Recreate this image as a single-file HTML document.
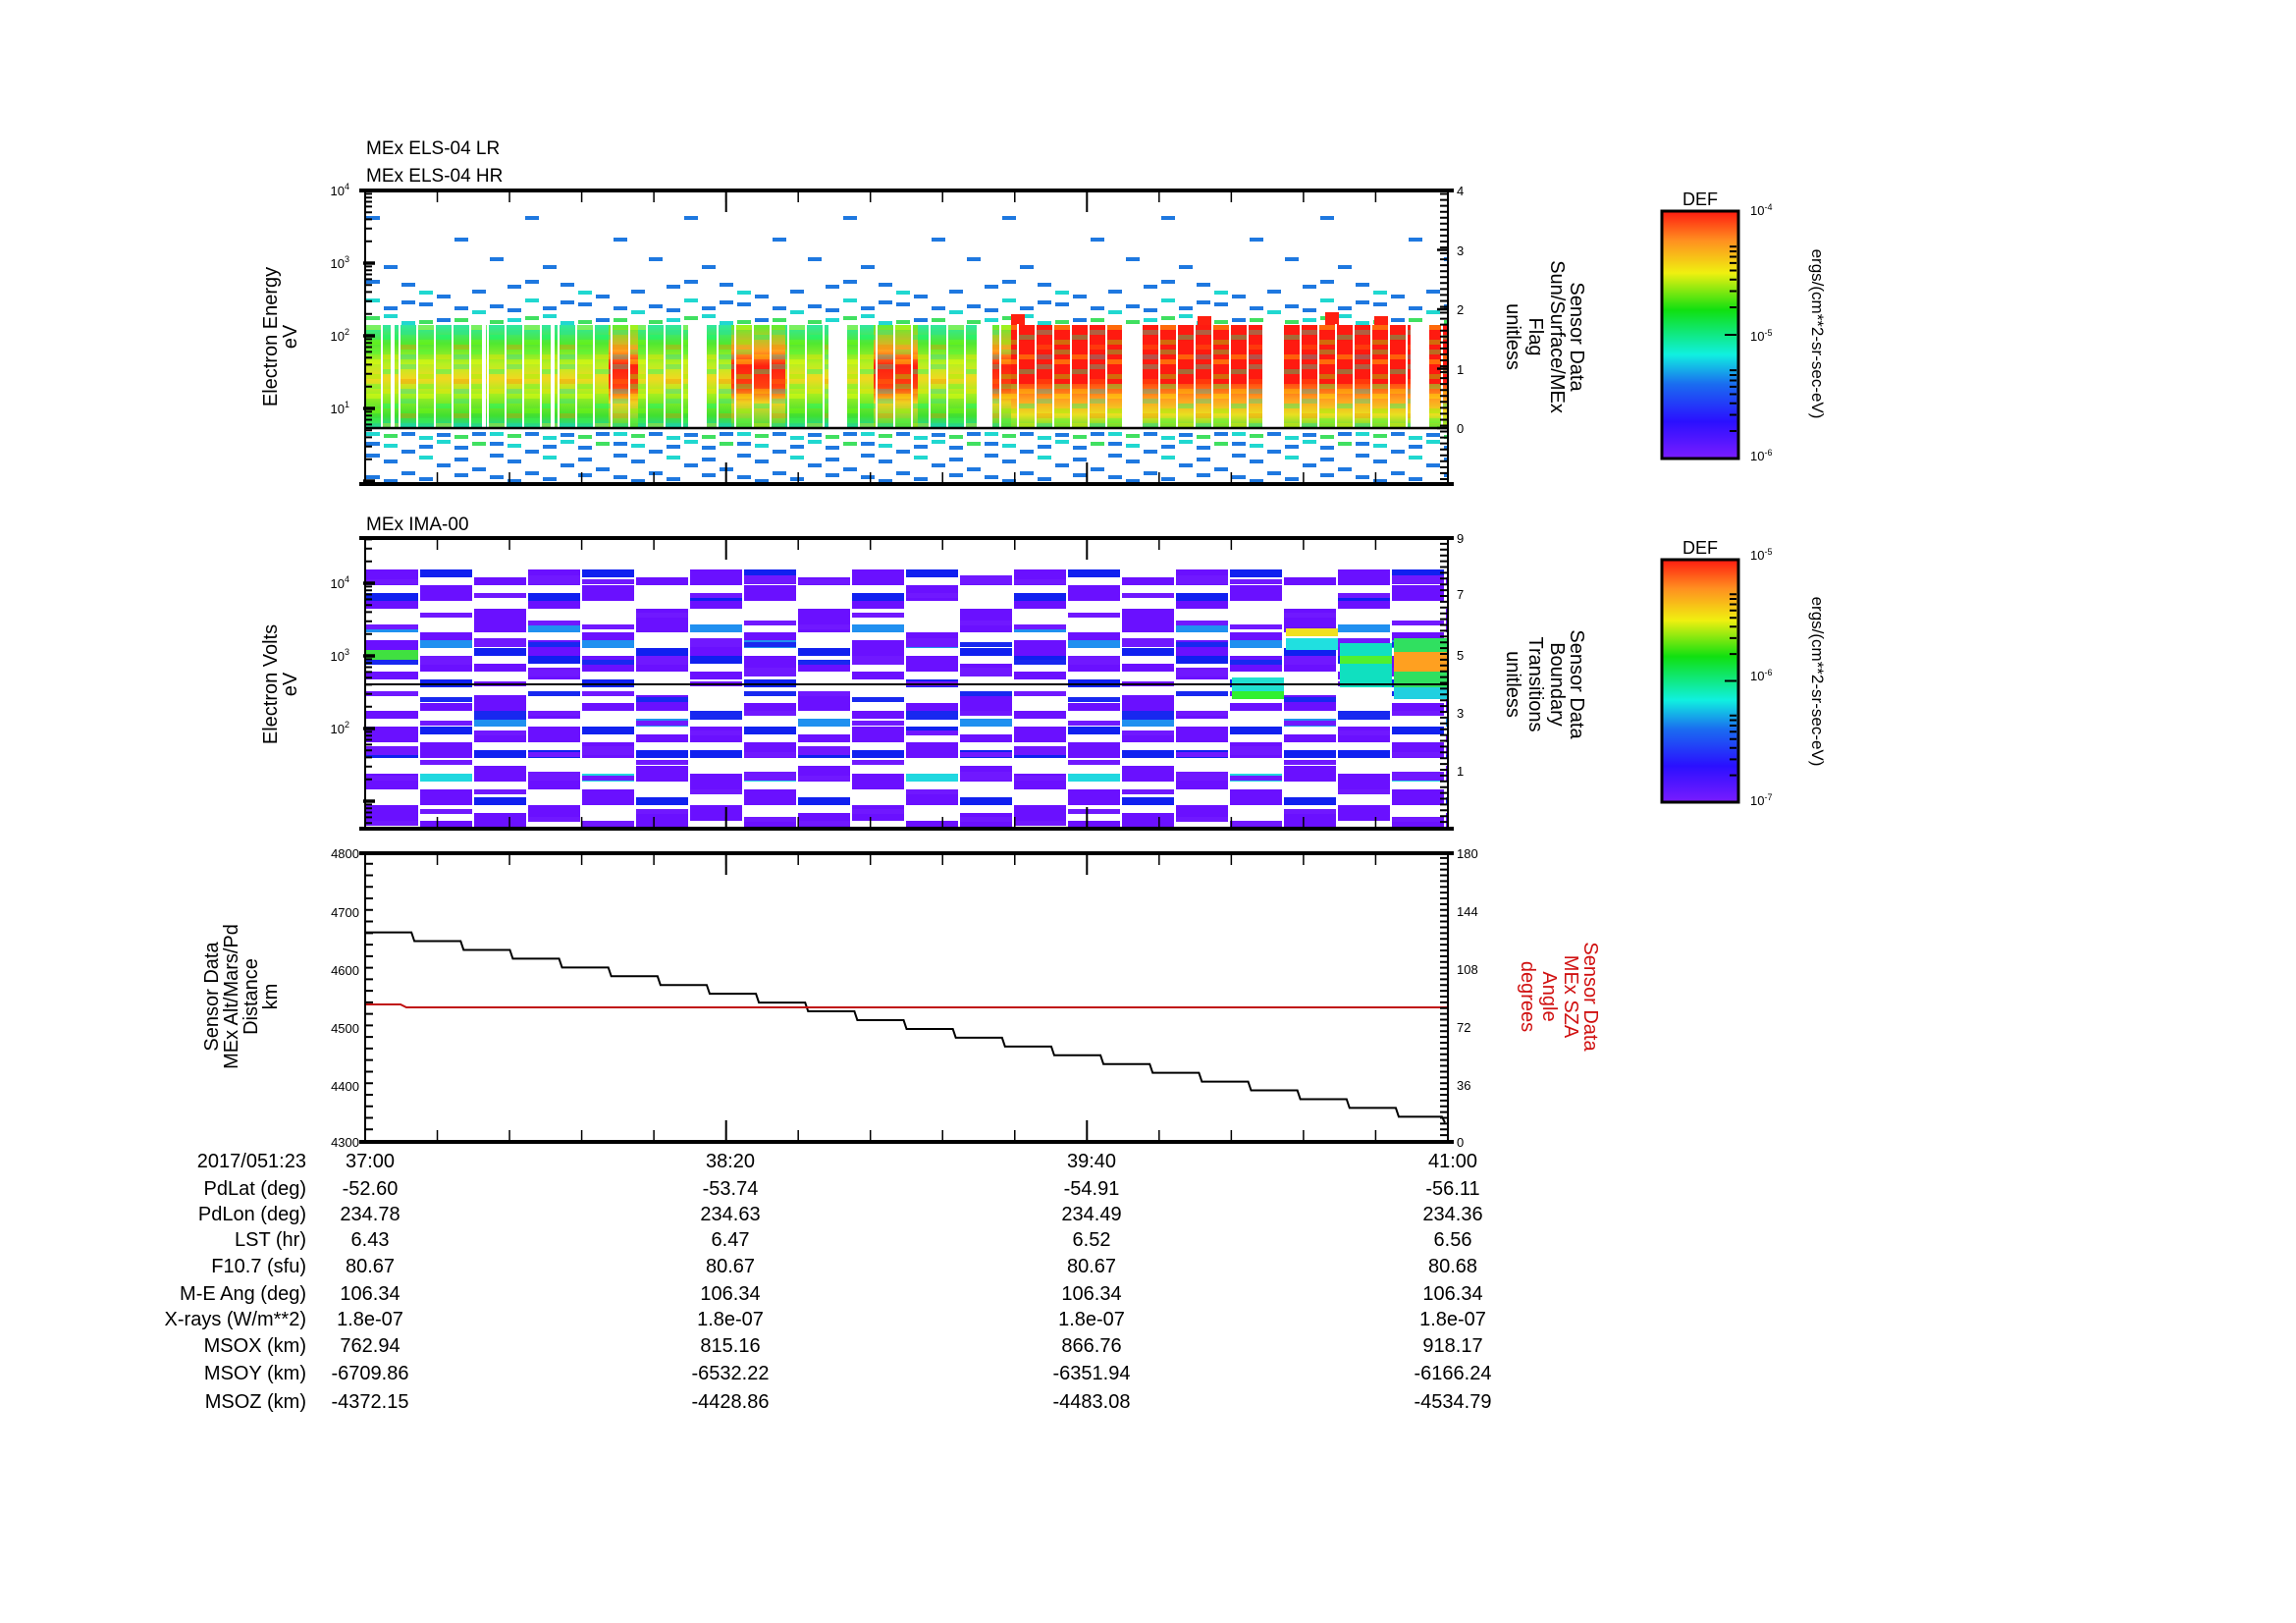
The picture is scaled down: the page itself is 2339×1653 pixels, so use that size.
<!DOCTYPE html>
<html><head><meta charset="utf-8"><style>
html,body{margin:0;padding:0;background:#fff;}
svg{display:block;font-family:"Liberation Sans",sans-serif;}
</style></head><body>
<svg width="2339" height="1653" viewBox="0 0 2339 1653" xmlns="http://www.w3.org/2000/svg">
<defs>
<linearGradient id="rb" x1="0" y1="1" x2="0" y2="0">
<stop offset="0" stop-color="#7a1cff"/><stop offset="0.15" stop-color="#2a10ff"/><stop offset="0.3" stop-color="#1a6cf0"/><stop offset="0.42" stop-color="#10f0e0"/><stop offset="0.6" stop-color="#10e010"/><stop offset="0.75" stop-color="#f0f010"/><stop offset="0.88" stop-color="#ff9020"/><stop offset="1" stop-color="#ff1a10"/>
</linearGradient>
<linearGradient id="gd" x1="0" y1="0" x2="0" y2="1">
<stop offset="0" stop-color="#30e8a0"/><stop offset="0.18" stop-color="#50e830"/><stop offset="0.38" stop-color="#b8f020"/><stop offset="0.52" stop-color="#f0d820"/><stop offset="0.66" stop-color="#a8f020"/><stop offset="0.88" stop-color="#40e030"/><stop offset="1" stop-color="#20d8a0"/>
</linearGradient>
<linearGradient id="gh" x1="0" y1="0" x2="0" y2="1">
<stop offset="0" stop-color="#60f030"/><stop offset="0.25" stop-color="#ffa020"/><stop offset="0.4" stop-color="#ff2010"/><stop offset="0.6" stop-color="#ff4010"/><stop offset="0.75" stop-color="#f0d020"/><stop offset="1" stop-color="#40e040"/>
</linearGradient>
<linearGradient id="gr" x1="0" y1="0" x2="0" y2="1">
<stop offset="0" stop-color="#ff5010"/><stop offset="0.35" stop-color="#ffa020"/><stop offset="0.7" stop-color="#e8e020"/><stop offset="1" stop-color="#60e030"/>
</linearGradient>
<pattern id="tex" patternUnits="userSpaceOnUse" x="372" y="331" width="54" height="35">
<rect x="0" y="0" width="18" height="5" fill="#ffff00" fill-opacity=".35"/>
<rect x="18" y="10" width="18" height="5" fill="#00ff80" fill-opacity=".35"/>
<rect x="36" y="20" width="18" height="5" fill="#ff8000" fill-opacity=".3"/>
<rect x="0" y="25" width="18" height="5" fill="#40ff40" fill-opacity=".35"/>
<rect x="18" y="30" width="18" height="5" fill="#ffe000" fill-opacity=".35"/>
<rect x="36" y="5" width="18" height="5" fill="#20e0a0" fill-opacity=".35"/>
<rect x="0" y="15" width="18" height="5" fill="#80ff00" fill-opacity=".35"/>
<rect x="36" y="30" width="18" height="5" fill="#10d0d0" fill-opacity=".3"/>
</pattern>
<pattern id="sp" patternUnits="userSpaceOnUse" x="372" y="200" width="162" height="131">
<g fill="#1e78e0">
<rect x="1" y="20" width="14" height="4"/><rect x="91" y="42" width="14" height="4"/><rect x="127" y="62" width="14" height="4"/><rect x="19" y="70" width="14" height="4"/>
<rect x="1" y="85" width="14" height="4"/><rect x="37" y="88" width="14" height="4"/><rect x="109" y="95" width="14" height="4"/><rect x="145" y="90" width="14" height="4"/><rect x="73" y="100" width="14" height="4"/>
<rect x="37" y="106" width="14" height="4"/><rect x="55" y="108" width="14" height="4"/><rect x="19" y="112" width="14" height="4"/><rect x="127" y="110" width="14" height="4"/><rect x="73" y="124" width="14" height="4"/><rect x="145" y="114" width="14" height="4"/><rect x="91" y="112" width="14" height="4"/>
</g>
<g fill="#20d8d0">
<rect x="55" y="96" width="14" height="4"/><rect x="1" y="104" width="14" height="4"/><rect x="109" y="116" width="14" height="4"/><rect x="19" y="120" width="14" height="4"/><rect x="145" y="124" width="14" height="4"/><rect x="37" y="127" width="14" height="4"/>
</g>
<g fill="#40e060">
<rect x="1" y="122" width="14" height="4"/><rect x="91" y="124" width="14" height="4"/><rect x="127" y="126" width="14" height="4"/><rect x="55" y="126" width="14" height="4"/>
</g>
</pattern>
<pattern id="sb" patternUnits="userSpaceOnUse" x="372" y="438" width="126" height="55">
<g fill="#1e78e0">
<rect x="37" y="2" width="14" height="4"/><rect x="73" y="3" width="14" height="4"/><rect x="109" y="2" width="14" height="4"/><rect x="1" y="12" width="14" height="4"/><rect x="55" y="15" width="14" height="4"/><rect x="91" y="16" width="14" height="4"/>
<rect x="1" y="24" width="14" height="4"/><rect x="37" y="20" width="14" height="4"/><rect x="91" y="28" width="14" height="4"/><rect x="19" y="30" width="14" height="4"/><rect x="73" y="34" width="14" height="4"/><rect x="109" y="38" width="14" height="4"/><rect x="37" y="42" width="14" height="4"/><rect x="1" y="46" width="14" height="4"/><rect x="55" y="48" width="14" height="4"/><rect x="91" y="44" width="14" height="4"/><rect x="19" y="50" width="14" height="4"/>
</g>
<g fill="#20d8d0"><rect x="1" y="2" width="14" height="4"/><rect x="55" y="6" width="14" height="4"/><rect x="19" y="14" width="14" height="4"/><rect x="73" y="10" width="14" height="4"/><rect x="55" y="26" width="14" height="4"/></g>
<g fill="#40e060"><rect x="19" y="4" width="14" height="4"/><rect x="91" y="5" width="14" height="4"/><rect x="109" y="12" width="14" height="4"/></g>
</pattern>
<pattern id="mid" patternUnits="userSpaceOnUse" x="372" y="580" width="165" height="264">
<g fill="#6a10ff">
<rect x="1" y="0" width="53" height="16"/><rect x="1" y="32" width="53" height="8"/><rect x="1" y="72" width="53" height="16"/><rect x="1" y="104" width="53" height="8"/><rect x="1" y="144" width="53" height="8"/><rect x="1" y="160" width="53" height="16"/><rect x="1" y="208" width="53" height="16"/><rect x="1" y="240" width="53" height="16"/>
<rect x="56" y="16" width="53" height="16"/><rect x="56" y="64" width="53" height="8"/><rect x="56" y="88" width="53" height="16"/><rect x="56" y="136" width="53" height="8"/><rect x="56" y="176" width="53" height="16"/><rect x="56" y="224" width="53" height="16"/><rect x="56" y="256" width="53" height="8"/>
<rect x="111" y="8" width="53" height="8"/><rect x="111" y="40" width="53" height="24"/><rect x="111" y="96" width="53" height="8"/><rect x="111" y="128" width="53" height="16"/><rect x="111" y="168" width="53" height="8"/><rect x="111" y="200" width="53" height="16"/><rect x="111" y="248" width="53" height="16"/>
</g>
<g fill="#1020f0">
<rect x="1" y="24" width="53" height="8"/><rect x="1" y="88" width="53" height="8"/><rect x="1" y="184" width="53" height="8"/>
<rect x="56" y="0" width="53" height="8"/><rect x="56" y="112" width="53" height="8"/><rect x="56" y="160" width="53" height="8"/>
<rect x="111" y="80" width="53" height="8"/><rect x="111" y="184" width="53" height="8"/><rect x="111" y="232" width="53" height="8"/>
</g>
<g fill="#2090f0"><rect x="1" y="56" width="53" height="8"/><rect x="56" y="72" width="53" height="8"/><rect x="111" y="152" width="53" height="8"/></g>
<rect x="56" y="208" width="53" height="8" fill="#20d8e0"/>
</pattern>
<pattern id="mid2" patternUnits="userSpaceOnUse" x="372" y="584" width="220" height="200">
<g fill="#7018ff">
<rect x="1" y="6" width="53" height="5"/><rect x="1" y="52" width="53" height="5"/><rect x="1" y="120" width="53" height="5"/><rect x="1" y="176" width="53" height="9"/>
<rect x="56" y="40" width="53" height="5"/><rect x="56" y="84" width="53" height="9"/><rect x="56" y="150" width="53" height="5"/><rect x="56" y="190" width="53" height="5"/>
<rect x="111" y="20" width="53" height="5"/><rect x="111" y="66" width="53" height="9"/><rect x="111" y="110" width="53" height="5"/><rect x="111" y="160" width="53" height="5"/>
<rect x="166" y="2" width="53" height="9"/><rect x="166" y="48" width="53" height="5"/><rect x="166" y="96" width="53" height="9"/><rect x="166" y="140" width="53" height="5"/><rect x="166" y="182" width="53" height="5"/>
</g>
<g fill="#1828f0">
<rect x="1" y="88" width="53" height="5"/><rect x="56" y="126" width="53" height="5"/><rect x="111" y="140" width="53" height="9"/><rect x="166" y="70" width="53" height="5"/><rect x="166" y="120" width="53" height="5"/>
</g>
</pattern>
</defs>
<rect width="2339" height="1653" fill="#fff"/>

<!-- top panel data -->
<rect x="372" y="200" width="1103" height="131" fill="url(#sp)"/>
<rect x="372" y="438" width="1103" height="55" fill="url(#sb)"/>
<rect x="372" y="331" width="1103" height="105" fill="url(#gd)"/>
<rect x="620" y="331" width="30" height="105" fill="url(#gh)"/>
<rect x="745" y="331" width="55" height="105" fill="url(#gh)"/>
<rect x="890" y="331" width="45" height="105" fill="url(#gh)"/>
<rect x="1011" y="331" width="19" height="105" fill="url(#gh)"/>
<g fill="#ff1a10">
<rect x="1030" y="331" width="113" height="60"/><rect x="1162" y="331" width="124" height="60"/><rect x="1308" y="331" width="129" height="60"/><rect x="1456" y="331" width="19" height="60"/>
</g>
<g fill="url(#gr)">
<rect x="1030" y="391" width="113" height="45"/><rect x="1162" y="391" width="124" height="45"/><rect x="1308" y="391" width="129" height="45"/><rect x="1456" y="391" width="19" height="45"/>
</g>
<rect x="372" y="331" width="1103" height="105" fill="url(#tex)"/>
<g fill="#ff2010"><rect x="1030" y="320" width="14" height="11"/><rect x="1220" y="322" width="14" height="9"/><rect x="1350" y="318" width="14" height="13"/><rect x="1400" y="322" width="14" height="9"/></g>
<line x1="372" y1="383" x2="1475" y2="383" stroke="#fff" stroke-width="106" stroke-dasharray="2 16" stroke-dashoffset="-16"/>
<g fill="#fff">
<rect x="398" y="330" width="4" height="106"/><rect x="491" y="330" width="4" height="106"/><rect x="561" y="330" width="4" height="106"/><rect x="701" y="330" width="19" height="106"/><rect x="844" y="330" width="19" height="106"/><rect x="995" y="330" width="16" height="106"/><rect x="1143" y="330" width="19" height="106"/><rect x="1286" y="330" width="22" height="106"/><rect x="1437" y="330" width="19" height="106"/>
</g>
<line x1="372" y1="436" x2="1475" y2="436" stroke="#000" stroke-width="2.5"/>

<!-- middle panel data -->
<rect x="372" y="580" width="1103" height="264" fill="url(#mid)"/>
<rect x="372" y="584" width="1103" height="258" fill="url(#mid2)"/>
<g>
<rect x="373" y="662" width="53" height="10" fill="#40e040"/>
<rect x="1310" y="640" width="53" height="8" fill="#f0e020"/>
<rect x="1310" y="650" width="53" height="12" fill="#20e0e0"/>
<rect x="1255" y="690" width="53" height="14" fill="#20e0d0"/>
<rect x="1255" y="704" width="53" height="8" fill="#30f030"/>
<rect x="1365" y="655" width="53" height="45" fill="#10e0c0"/>
<rect x="1365" y="668" width="53" height="8" fill="#50f030"/>
<rect x="1420" y="650" width="54" height="50" fill="#30e060"/>
<rect x="1420" y="664" width="54" height="20" fill="#ffa020"/>
<rect x="1420" y="700" width="54" height="12" fill="#20d0e0"/>
</g>
<line x1="372" y1="697" x2="1475" y2="697" stroke="#000" stroke-width="2"/>

<!-- bottom panel lines -->
<path d="M372 949.6 h47.14 l3 8.94 h47.14 l3 8.94 h47.14 l3 8.94 h47.14 l3 8.94 h47.14 l3 8.94 h47.14 l3 8.94 h47.14 l3 8.94 h47.14 l3 8.94 h47.14 l3 8.94 h47.14 l3 8.94 h47.14 l3 8.94 h47.14 l3 8.94 h47.14 l3 8.94 h47.14 l3 8.94 h47.14 l3 8.94 h47.14 l3 8.94 h47.14 l3 8.94 h47.14 l3 8.94 h47.14 l3 8.94 h47.14 l3 8.94 h47.14 l3 8.94 h44 l3 6" fill="none" stroke="#000" stroke-width="2"/>
<path d="M372 1023 h36 l6 3 H1475" fill="none" stroke="#c01010" stroke-width="2"/>

<!-- frames -->
<g stroke="#000" fill="none">
<path d="M366 194H1481M366 493H1481M366 548H1481M366 844H1481M366 869H1481M366 1163H1481" stroke-width="4"/>
<path d="M372 194V493M1475 194V493M372 548V844M1475 548V844M372 869V1163M1475 869V1163" stroke-width="2"/>
<g stroke-width="12" stroke-dasharray="1.5 72.03">
<line x1="371.25" y1="200" x2="1477" y2="200"/><line x1="371.25" y1="487" x2="1477" y2="487"/>
<line x1="371.25" y1="554" x2="1477" y2="554"/><line x1="371.25" y1="838" x2="1477" y2="838"/>
<line x1="371.25" y1="875" x2="1477" y2="875"/><line x1="371.25" y1="1157" x2="1477" y2="1157"/>
</g>
<path d="M739.7 194v22M1107.3 194v22M739.7 493v-22M1107.3 493v-22M739.7 548v22M1107.3 548v22M739.7 844v-22M1107.3 844v-22M739.7 869v22M1107.3 869v22M739.7 1163v-22M1107.3 1163v-22" stroke-width="2"/>
<path stroke-width="2" d="M372 467.7h7M372 454.7h7M372 445.4h7M372 438.3h7M372 432.4h7M372 427.5h7M372 423.2h7M372 419.4h7M372 393.7h7M372 380.7h7M372 371.4h7M372 364.3h7M372 358.4h7M372 353.5h7M372 349.2h7M372 345.4h7M372 319.7h7M372 306.7h7M372 297.4h7M372 290.3h7M372 284.4h7M372 279.5h7M372 275.2h7M372 271.4h7M372 245.7h7M372 232.7h7M372 223.4h7M372 216.3h7M372 210.4h7M372 205.5h7M372 201.2h7M372 197.4h7
M372 838.3h7M372 832.4h7M372 827.5h7M372 823.2h7M372 819.4h7M372 793.7h7M372 780.7h7M372 771.4h7M372 764.3h7M372 758.4h7M372 753.5h7M372 749.2h7M372 745.4h7M372 719.7h7M372 706.7h7M372 697.4h7M372 690.3h7M372 684.4h7M372 679.5h7M372 675.2h7M372 671.4h7M372 645.7h7M372 632.7h7M372 623.4h7M372 616.3h7M372 610.4h7M372 605.5h7M372 601.2h7M372 597.4h7M372 571.7h7M372 558.7h7M372 549.4h7"/>
<path stroke-width="3.5" d="M370 490h12M370 416h12M370 342h12M370 268h12M370 816h12M370 742h12M370 668h12M370 594h12"/>
<line x1="1471" y1="493" x2="1471" y2="194" stroke-width="8" stroke-dasharray="2 4.05" stroke-dashoffset="2"/>
<path stroke-width="2.5" d="M1476 436h-12M1476 375.5h-12M1476 315h-12M1476 254.5h-12M1476 194h-12"/>
<line x1="1471" y1="844" x2="1471" y2="548" stroke-width="8" stroke-dasharray="2 3.9"/>
<line x1="1471" y1="1163" x2="1471" y2="869" stroke-width="8" stroke-dasharray="2 3.88"/>
<line x1="376" y1="1163" x2="376" y2="869" stroke-width="8" stroke-dasharray="2 9.76"/>
</g>

<g font-size="19" fill="#000">
<text x="373" y="157">MEx ELS-04 LR</text>
<text x="373" y="185">MEx ELS-04 HR</text>
<text x="373" y="540">MEx IMA-00</text>
</g>
<g font-size="20" fill="#000" text-anchor="middle">
<text transform="translate(282,343) rotate(-90)">Electron Energy</text>
<text transform="translate(302,343) rotate(-90)">eV</text>
<text transform="translate(282,697) rotate(-90)">Electron Volts</text>
<text transform="translate(302,697) rotate(-90)">eV</text>
<text transform="translate(222,1015) rotate(-90)">Sensor Data</text>
<text transform="translate(242,1015) rotate(-90)">MEx Alt/Mars/Pd</text>
<text transform="translate(262,1015) rotate(-90)">Distance</text>
<text transform="translate(282,1015) rotate(-90)">km</text>
</g>
<g font-size="20" fill="#000" text-anchor="middle">
<text transform="translate(1600,343) rotate(90)">Sensor Data</text>
<text transform="translate(1580,343) rotate(90)">Sun/Surface/MEx</text>
<text transform="translate(1558,343) rotate(90)">Flag</text>
<text transform="translate(1535,343) rotate(90)">unitless</text>
<text transform="translate(1600,697) rotate(90)">Sensor Data</text>
<text transform="translate(1580,697) rotate(90)">Boundary</text>
<text transform="translate(1558,697) rotate(90)">Transitions</text>
<text transform="translate(1535,697) rotate(90)">unitless</text>
</g>
<g font-size="20" fill="#d01010" text-anchor="middle">
<text transform="translate(1614,1015) rotate(90)">Sensor Data</text>
<text transform="translate(1594,1015) rotate(90)">MEx SZA</text>
<text transform="translate(1572,1015) rotate(90)">Angle</text>
<text transform="translate(1550,1015) rotate(90)">degrees</text>
</g>
<g font-size="13" fill="#000" text-anchor="end">
<text x="356" y="199">10<tspan font-size="9" dy="-6">4</tspan></text>
<text x="356" y="273">10<tspan font-size="9" dy="-6">3</tspan></text>
<text x="356" y="347">10<tspan font-size="9" dy="-6">2</tspan></text>
<text x="356" y="421">10<tspan font-size="9" dy="-6">1</tspan></text>
<text x="356" y="599">10<tspan font-size="9" dy="-6">4</tspan></text>
<text x="356" y="673">10<tspan font-size="9" dy="-6">3</tspan></text>
<text x="356" y="747">10<tspan font-size="9" dy="-6">2</tspan></text>
<text x="366" y="874">4800</text>
<text x="366" y="934">4700</text>
<text x="366" y="993">4600</text>
<text x="366" y="1052">4500</text>
<text x="366" y="1111">4400</text>
<text x="366" y="1168">4300</text>
</g>
<g font-size="13" fill="#000">
<text x="1484" y="199">4</text><text x="1484" y="260">3</text><text x="1484" y="320">2</text><text x="1484" y="381">1</text><text x="1484" y="441">0</text>
<text x="1484" y="553">9</text><text x="1484" y="610">7</text><text x="1484" y="672">5</text><text x="1484" y="731">3</text><text x="1484" y="790">1</text>
<text x="1484" y="874">180</text><text x="1484" y="933">144</text><text x="1484" y="992">108</text><text x="1484" y="1051">72</text><text x="1484" y="1110">36</text><text x="1484" y="1168">0</text>
</g>

<rect x="1693" y="215" width="78" height="252" fill="url(#rb)" stroke="#000" stroke-width="3"/>
<rect x="1693" y="570" width="78" height="247" fill="url(#rb)" stroke="#000" stroke-width="3"/>
<path stroke="#000" stroke-width="2" d="M1769 439h-7M1769 422.5h-7M1769 410.7h-7M1769 401.5h-7M1769 393.9h-7M1769 387.5h-7M1769 382h-7M1769 377.1h-7M1769 341h-12M1769 313h-7M1769 296.5h-7M1769 284.7h-7M1769 275.5h-7M1769 267.9h-7M1769 261.5h-7M1769 256h-7M1769 251.1h-7
M1769 789.6h-7M1769 773.4h-7M1769 761.8h-7M1769 752.8h-7M1769 745.3h-7M1769 739h-7M1769 733.5h-7M1769 728.7h-7M1769 693.5h-12M1769 666.1h-7M1769 649.9h-7M1769 638.3h-7M1769 629.3h-7M1769 621.8h-7M1769 615.5h-7M1769 610h-7M1769 605.2h-7"/>
<g font-size="18" fill="#000" text-anchor="middle"><text x="1732" y="209">DEF</text><text x="1732" y="564">DEF</text></g>
<g font-size="13" fill="#000">
<text x="1783" y="219">10<tspan font-size="9" dy="-5">-4</tspan></text>
<text x="1783" y="347">10<tspan font-size="9" dy="-5">-5</tspan></text>
<text x="1783" y="469">10<tspan font-size="9" dy="-5">-6</tspan></text>
<text x="1783" y="570">10<tspan font-size="9" dy="-5">-5</tspan></text>
<text x="1783" y="693">10<tspan font-size="9" dy="-5">-6</tspan></text>
<text x="1783" y="820">10<tspan font-size="9" dy="-5">-7</tspan></text>
</g>
<g font-size="17" fill="#000" text-anchor="middle">
<text transform="translate(1846,340) rotate(90)">ergs/(cm**2-sr-sec-eV)</text>
<text transform="translate(1846,694) rotate(90)">ergs/(cm**2-sr-sec-eV)</text>
</g>

<g font-size="20" fill="#000" text-anchor="end">
<text x="312" y="1189">2017/051:23</text>
<text x="312" y="1217">PdLat (deg)</text>
<text x="312" y="1243">PdLon (deg)</text>
<text x="312" y="1269">LST (hr)</text>
<text x="312" y="1296">F10.7 (sfu)</text>
<text x="312" y="1324">M-E Ang (deg)</text>
<text x="312" y="1350">X-rays (W/m**2)</text>
<text x="312" y="1377">MSOX (km)</text>
<text x="312" y="1405">MSOY (km)</text>
<text x="312" y="1434">MSOZ (km)</text>
</g>
<g font-size="20" fill="#000" text-anchor="middle">
<g transform="translate(377,0)"><text y="1189">37:00</text><text y="1217">-52.60</text><text y="1243">234.78</text><text y="1269">6.43</text><text y="1296">80.67</text><text y="1324">106.34</text><text y="1350">1.8e-07</text><text y="1377">762.94</text><text y="1405">-6709.86</text><text y="1434">-4372.15</text></g>
<g transform="translate(744,0)"><text y="1189">38:20</text><text y="1217">-53.74</text><text y="1243">234.63</text><text y="1269">6.47</text><text y="1296">80.67</text><text y="1324">106.34</text><text y="1350">1.8e-07</text><text y="1377">815.16</text><text y="1405">-6532.22</text><text y="1434">-4428.86</text></g>
<g transform="translate(1112,0)"><text y="1189">39:40</text><text y="1217">-54.91</text><text y="1243">234.49</text><text y="1269">6.52</text><text y="1296">80.67</text><text y="1324">106.34</text><text y="1350">1.8e-07</text><text y="1377">866.76</text><text y="1405">-6351.94</text><text y="1434">-4483.08</text></g>
<g transform="translate(1480,0)"><text y="1189">41:00</text><text y="1217">-56.11</text><text y="1243">234.36</text><text y="1269">6.56</text><text y="1296">80.68</text><text y="1324">106.34</text><text y="1350">1.8e-07</text><text y="1377">918.17</text><text y="1405">-6166.24</text><text y="1434">-4534.79</text></g>
</g>
</svg>
</body></html>
